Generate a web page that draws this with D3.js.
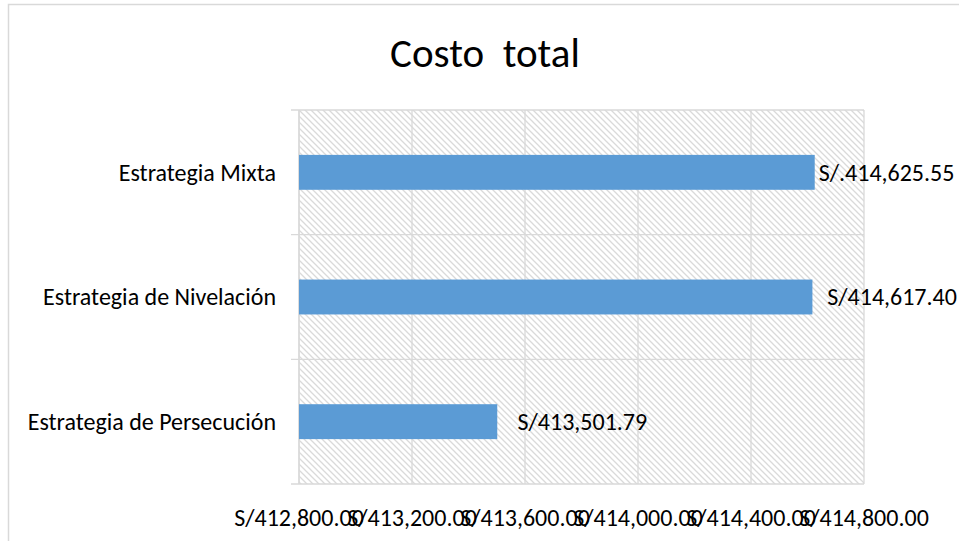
<!DOCTYPE html>
<html>
<head>
    <meta charset="utf-8">
    <script src="https://d3js.org/d3.v7.min.js"></script>
    <style>
        body { margin: 0; background: #fff; }
        text { font-family: Carlito, Calibri, "Liberation Sans Narrow", "Noto Sans", sans-serif; fill: #000; }
    </style>
</head>
<body>
<div id="chart"></div>
<script>
    // chart data
    var categories = ["Estrategia Mixta", "Estrategia de Nivelación", "Estrategia de Persecución"];
    var costs = [414625.55, 414617.40, 413501.79];
    var valueLabels = ["S/.414,625.55", "  S/414,617.40", "   S/413,501.79"];
    var xTicks = [412800, 413200, 413600, 414000, 414400, 414800];
    var tickLabels = ["S/412,800.00", "S/413,200.00", "S/413,600.00", "S/414,000.00", "S/414,400.00", "S/414,800.00"];

    var W = 959, H = 541;
    var margin = { top: 110, right: 95, bottom: 57, left: 299 };
    var width = W - margin.left - margin.right;
    var height = H - margin.top - margin.bottom;

    var svg = d3.select("#chart").append("svg")
        .attr("width", W)
        .attr("height", H);

    // hatch pattern for plot background
    var defs = svg.append("defs");
    var pat = defs.append("pattern")
        .attr("id", "hatch")
        .attr("patternUnits", "userSpaceOnUse")
        .attr("width", 6).attr("height", 6);
    pat.append("rect").attr("width", 6).attr("height", 6).attr("fill", "#fff");
    pat.append("path")
        .attr("d", "M-1,-1 L7,7 M-1,5 L1,7 M5,-1 L7,1")
        .attr("stroke", "#dadada")
        .attr("stroke-width", 1.3);

    // outer frame
    svg.append("path")
        .attr("d", "M8.5," + H + " V4.5 H" + W)
        .attr("fill", "none")
        .attr("stroke", "#d9d9d9")
        .attr("stroke-width", 1.5);

    svg.append("text")
        .attr("x", 485)
        .attr("y", 67)
        .attr("text-anchor", "middle")
        .style("font-size", "41px")
        .style("white-space", "pre")
        .text("Costo  total");

    var g = svg.append("g")
        .attr("transform", "translate(" + margin.left + "," + margin.top + ")");

    var x = d3.scaleLinear()
        .domain([xTicks[0], xTicks[xTicks.length - 1]])
        .range([0, width]);
    var y = d3.scaleBand()
        .domain(categories)
        .range([0, height])
        .paddingInner(0.72)
        .paddingOuter(0.36);

    g.append("rect")
        .attr("width", width)
        .attr("height", height)
        .attr("fill", "url(#hatch)");

    // vertical gridlines
    g.selectAll(".vgrid")
        .data(xTicks)
        .enter().append("line")
        .attr("class", "vgrid")
        .attr("x1", function (d) { return x(d); })
        .attr("x2", function (d) { return x(d); })
        .attr("y1", 0)
        .attr("y2", height)
        .attr("stroke", "#d9d9d9")
        .attr("stroke-width", 1.3);

    // category separators (with tick marks to the left)
    var step = y.step();
    var seps = d3.range(categories.length + 1).map(function (i) { return i * step; });
    g.selectAll(".hgrid")
        .data(seps)
        .enter().append("line")
        .attr("class", "hgrid")
        .attr("x1", -8)
        .attr("x2", width)
        .attr("y1", function (d) { return d; })
        .attr("y2", function (d) { return d; })
        .attr("stroke", "#d9d9d9")
        .attr("stroke-width", 1.3);

    g.append("line")
        .attr("x1", 0).attr("x2", 0)
        .attr("y1", 0).attr("y2", height)
        .attr("stroke", "#d9d9d9")
        .attr("stroke-width", 1.3);

    // bars
    g.selectAll(".bar")
        .data(costs)
        .enter().append("rect")
        .attr("class", "bar")
        .attr("x", 0)
        .attr("y", function (d, i) { return y(categories[i]); })
        .attr("width", function (d) { return x(d); })
        .attr("height", y.bandwidth())
        .attr("fill", "#5b9bd5");

    // value labels
    g.selectAll(".vlabel")
        .data(costs)
        .enter().append("text")
        .attr("class", "vlabel")
        .attr("x", function (d) { return x(d) + 4; })
        .attr("y", function (d, i) { return y(categories[i]) + y.bandwidth() / 2; })
        .attr("dy", "0.35em")
        .style("font-size", "24px")
        .style("white-space", "pre")
        .text(function (d, i) { return valueLabels[i]; });

    // category labels
    g.selectAll(".clabel")
        .data(categories)
        .enter().append("text")
        .attr("class", "clabel")
        .attr("x", -23)
        .attr("y", function (d) { return y(d) + y.bandwidth() / 2; })
        .attr("dy", "0.35em")
        .attr("text-anchor", "end")
        .style("font-size", "24px")
        .text(function (d) { return d; });

    // x tick labels (they overlap, like the original)
    g.selectAll(".tlabel")
        .data(xTicks)
        .enter().append("text")
        .attr("class", "tlabel")
        .attr("x", function (d) { return x(d); })
        .attr("y", height + 42)
        .attr("text-anchor", "middle")
        .style("font-size", "24px")
        .text(function (d, i) { return tickLabels[i]; });
</script>
</body>
</html>
